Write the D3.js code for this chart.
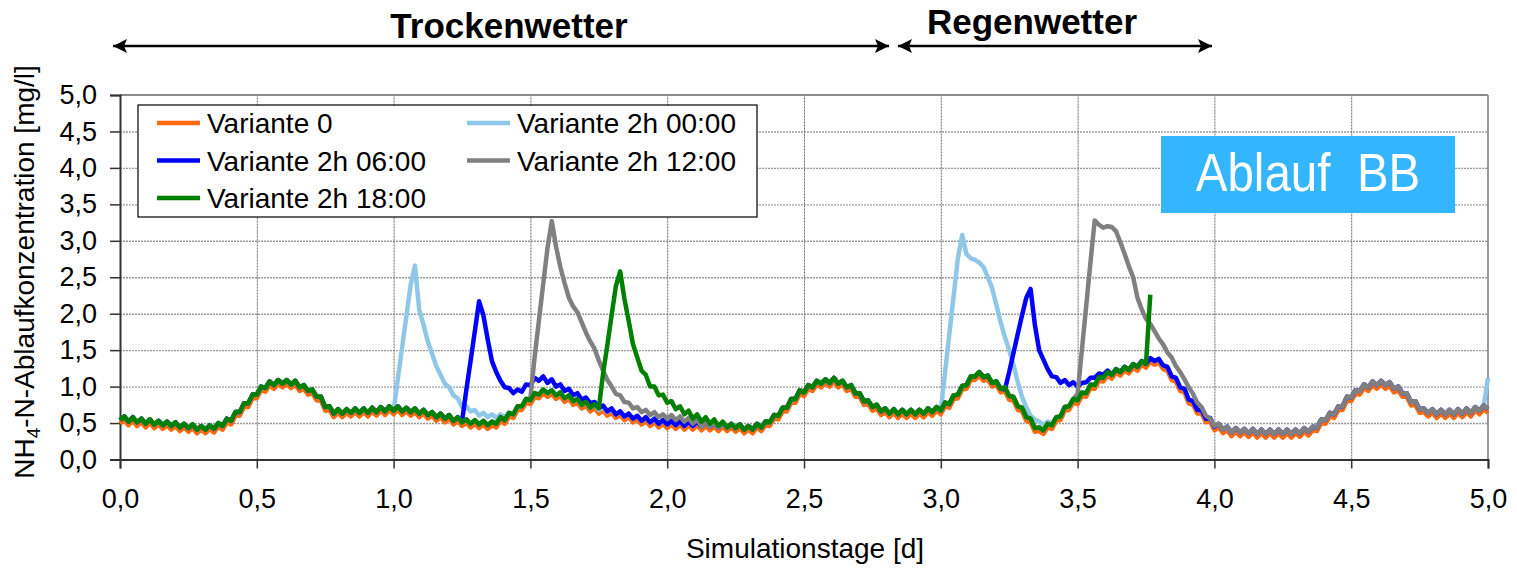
<!DOCTYPE html>
<html>
<head>
<meta charset="utf-8">
<script src="https://cdn.jsdelivr.net/npm/d3@7"></script>
<style>
  body { margin: 0; background: #fff; }
  text { font-family: "Liberation Sans", Arial, sans-serif; }
</style>
</head>
<body>
<svg id="chart"></svg>
<script>
// Simulationsschritt: 1/64 d
const dayStep = 1 / 64;

const xTicks = [0, 0.5, 1, 1.5, 2, 2.5, 3, 3.5, 4, 4.5, 5];
const yTicks = [0, 0.5, 1, 1.5, 2, 2.5, 3, 3.5, 4, 4.5, 5];

const seriesNames = ['Variante 0', 'Variante 2h 00:00', 'Variante 2h 06:00', 'Variante 2h 12:00', 'Variante 2h 18:00'];

// NH4-N im Ablauf, Variante 0 [mg/l]
const variante0 = [
  0.49,0.54,0.47,0.53,0.46,0.51,0.44,0.50,0.43,0.48,
  0.42,0.47,0.41,0.46,0.39,0.44,0.38,0.43,0.36,0.41,
  0.36,0.42,0.37,0.45,0.41,0.51,0.48,0.60,0.60,0.72,
  0.72,0.84,0.84,0.95,0.93,1.02,0.97,1.04,0.99,1.04,
  0.98,1.03,0.94,0.97,0.89,0.91,0.81,0.81,0.67,0.68,
  0.58,0.64,0.58,0.64,0.59,0.65,0.59,0.65,0.59,0.66,
  0.60,0.67,0.61,0.68,0.62,0.68,0.61,0.66,0.60,0.65,
  0.58,0.63,0.56,0.60,0.53,0.58,0.51,0.56,0.48,0.53,
  0.46,0.50,0.44,0.49,0.43,0.48,0.42,0.47,0.44,0.53,
  0.49,0.59,0.57,0.68,0.68,0.78,0.76,0.86,0.84,0.91,
  0.86,0.90,0.83,0.87,0.79,0.83,0.75,0.78,0.70,0.74,
  0.66,0.71,0.63,0.67,0.60,0.64,0.57,0.61,0.54,0.58,
  0.51,0.55,0.48,0.53,0.46,0.51,0.44,0.49,0.43,0.48,
  0.42,0.48,0.41,0.47,0.41,0.47,0.40,0.46,0.40,0.45,
  0.39,0.45,0.39,0.44,0.38,0.43,0.36,0.41,0.36,0.44,
  0.39,0.47,0.46,0.56,0.55,0.66,0.66,0.78,0.78,0.90,
  0.87,0.97,0.94,1.03,0.99,1.05,1.00,1.07,0.99,1.03,
  0.94,0.97,0.86,0.86,0.75,0.76,0.67,0.70,0.61,0.65,
  0.58,0.64,0.57,0.63,0.57,0.63,0.57,0.63,0.58,0.65,
  0.60,0.67,0.62,0.73,0.71,0.83,0.84,0.96,0.97,1.09,
  1.09,1.15,1.08,1.10,1.00,1.02,0.92,0.94,0.82,0.81,
  0.68,0.66,0.53,0.51,0.38,0.39,0.35,0.44,0.42,0.53,
  0.54,0.67,0.68,0.78,0.76,0.87,0.86,0.98,0.97,1.08,
  1.07,1.15,1.11,1.19,1.15,1.22,1.18,1.26,1.22,1.30,
  1.26,1.34,1.30,1.33,1.24,1.22,1.09,1.07,0.94,0.92,
  0.77,0.75,0.63,0.63,0.51,0.52,0.40,0.44,0.36,0.40,
  0.32,0.38,0.32,0.37,0.31,0.37,0.30,0.36,0.30,0.36,
  0.30,0.36,0.30,0.36,0.30,0.36,0.31,0.38,0.33,0.40,
  0.39,0.50,0.49,0.59,0.57,0.68,0.68,0.81,0.80,0.90,
  0.89,0.98,0.94,1.02,0.97,1.03,0.97,1.01,0.92,0.95,
  0.86,0.86,0.74,0.75,0.64,0.65,0.59,0.64,0.57,0.63,
  0.57,0.63,0.57,0.64,0.58,0.65,0.59,0.67,0.62,0.69,
  0.64
];

// gemeinsamer Verlauf der 2h-Varianten ausserhalb der Stoesse [mg/l]
const basis2h = [
  0.54,0.59,0.52,0.58,0.51,0.56,0.49,0.55,0.48,0.53,
  0.47,0.52,0.46,0.51,0.44,0.49,0.43,0.48,0.41,0.46,
  0.41,0.47,0.42,0.50,0.46,0.56,0.53,0.65,0.65,0.77,
  0.77,0.89,0.89,1.00,0.98,1.07,1.02,1.09,1.04,1.09,
  1.03,1.08,0.99,1.02,0.94,0.96,0.86,0.86,0.72,0.73,
  0.63,0.69,0.63,0.69,0.64,0.70,0.64,0.70,0.64,0.71,
  0.65,0.72,0.66,0.73,0.67,0.73,0.66,0.71,0.65,0.70,
  0.63,0.68,0.61,0.65,0.58,0.63,0.56,0.61,0.53,0.58,
  0.51,0.55,0.49,0.54,0.48,0.53,0.47,0.52,0.49,0.58,
  0.54,0.64,0.62,0.73,0.73,0.83,0.81,0.91,0.89,0.96,
  0.91,0.95,0.88,0.92,0.84,0.88,0.80,0.83,0.75,0.79,
  0.71,0.76,0.68,0.72,0.65,0.69,0.62,0.66,0.59,0.63,
  0.56,0.60,0.53,0.58,0.51,0.56,0.49,0.54,0.48,0.53,
  0.47,0.53,0.46,0.52,0.46,0.52,0.45,0.51,0.45,0.50,
  0.44,0.50,0.44,0.49,0.43,0.48,0.41,0.46,0.41,0.49,
  0.44,0.52,0.51,0.61,0.60,0.71,0.71,0.83,0.83,0.95,
  0.92,1.02,0.99,1.08,1.04,1.10,1.05,1.12,1.04,1.08,
  0.99,1.02,0.91,0.91,0.80,0.81,0.72,0.75,0.66,0.70,
  0.63,0.69,0.62,0.68,0.62,0.68,0.62,0.68,0.63,0.70,
  0.65,0.72,0.67,0.78,0.76,0.88,0.89,1.01,1.02,1.14,
  1.14,1.20,1.13,1.15,1.05,1.07,0.97,0.99,0.87,0.86,
  0.73,0.71,0.58,0.56,0.43,0.44,0.40,0.49,0.47,0.58,
  0.59,0.72,0.73,0.83,0.81,0.92,0.91,1.03,1.02,1.13,
  1.12,1.20,1.16,1.24,1.20,1.27,1.23,1.31,1.27,1.35,
  1.31,1.39,1.35,1.38,1.29,1.27,1.14,1.12,0.99,0.97,
  0.82,0.80,0.68,0.68,0.56,0.57,0.45,0.49,0.41,0.45,
  0.37,0.43,0.37,0.42,0.36,0.42,0.35,0.41,0.35,0.41,
  0.35,0.41,0.35,0.41,0.35,0.41,0.36,0.43,0.38,0.45,
  0.44,0.55,0.54,0.64,0.62,0.73,0.73,0.86,0.85,0.95,
  0.94,1.03,0.99,1.07,1.02,1.08,1.02,1.06,0.97,1.00,
  0.91,0.91,0.79,0.80,0.69,0.70,0.64,0.69,0.62,0.68,
  0.62,0.68,0.62,0.69,0.63,0.70,0.64,0.72,0.67,0.74,
  0.69
];

// Stoesse je Variante (Startschritt + Werte)
const start00a = 65;
const peak00a = [1.11,1.54,1.97,2.40,2.66,2.05,1.85,1.62,1.45,1.28,1.16,1.04,0.99,0.88,0.84,0.72,0.73,0.66,0.68,0.60,0.64,0.58,0.62,0.57,0.62,0.58,0.64];
const start00b = 193;
const peak00b = [1.20,1.72,2.24,2.76,3.08,2.82,2.76,2.74,2.70,2.64,2.50,2.35,2.12,1.88,1.68,1.50,1.30,1.06,0.86,0.72,0.60,0.55,0.52,0.48,0.52,0.50];
const start00c = 320;
const peak00c = [1.12];

const start06a = 80;
const peak06a = [0.52,0.95,1.35,1.76,2.17,1.98,1.65,1.35,1.20,1.08,0.99,0.98,0.91,0.96,0.93,1.03,1.02,1.12,1.08,1.14,1.05,1.10,1.00,1.03,0.94,0.97,0.88,0.91,0.82,0.85,0.77,0.79,0.71,0.74,0.66,0.70,0.62,0.66];
const start06b = 207;
const peak06b = [0.96,1.20,1.46,1.72,1.98,2.22,2.34,1.85,1.50,1.37,1.24,1.14,1.13,1.05,1.09,1.02,1.06,1.00,1.05,1.06,1.12,1.12,1.18,1.16,1.22];

const start12a = 96;
const peak12a = [0.84,1.41,1.91,2.41,2.90,3.27,2.92,2.64,2.42,2.22,2.10,2.02,1.88,1.74,1.62,1.52,1.36,1.22,1.09,1.00,0.90,0.88,0.79,0.78,0.70,0.72,0.65,0.68,0.61,0.65,0.58,0.62,0.56,0.61,0.54,0.59,0.52,0.57,0.49,0.55];
const start12b = 224;
const peak12b = [0.90,1.50,2.10,2.70,3.28,3.22,3.18,3.20,3.19,3.13,2.98,2.82,2.65,2.50,2.22,2.06,1.93,1.86,1.76,1.66,1.58,1.47,1.40,1.28,1.20,1.10,0.99,0.90,0.78,0.72,0.60,0.56,0.46,0.49];

const start18a = 112;
const peak18a = [0.70,1.18,1.57,1.98,2.38,2.58,2.20,1.90,1.58,1.40,1.22,1.16,1.00,1.00,0.88,0.89,0.78,0.80,0.69,0.73,0.62,0.67,0.56,0.62,0.52,0.58,0.49,0.55,0.46,0.52];
const start18b = 241;
const peak18b = [2.26];
const steps18 = 242; // Variante 18:00 endet bei 3,77 d

const seriesColors = ['#ff6a0e', '#8fc7e8', '#0000ff', '#808080', '#008000'];

function withPeaks(base, peaks, len = base.length) {
  const s = base.slice(0, len);
  peaks.forEach(([start, vals]) => vals.forEach((v, k) => { s[start + k] = v; }));
  return s;
}

const series = [
  variante0,
  withPeaks(basis2h, [[start00a, peak00a], [start00b, peak00b], [start00c, peak00c]]),
  withPeaks(basis2h, [[start06a, peak06a], [start06b, peak06b]]),
  withPeaks(basis2h, [[start12a, peak12a], [start12b, peak12b]]),
  withPeaks(basis2h, [[start18a, peak18a], [start18b, peak18b]], steps18)
].map((values, i) => ({ name: seriesNames[i], color: seriesColors[i], values }));

const width = 1517;
const height = 569;
const plotLeft = 120, plotRight = 1488, plotTop = 95, plotBottom = 459.5;

const svg = d3.select('#chart')
  .attr('width', width)
  .attr('height', height);

svg.append('rect').attr('width', width).attr('height', height).attr('fill', '#fff');

const x = d3.scaleLinear().domain([0, 5]).range([plotLeft, plotRight]);
const y = d3.scaleLinear().domain([0, 5]).range([plotBottom, plotTop]);
const fmt = d => d.toFixed(1).replace('.', ',');

// grid
svg.append('g')
  .attr('transform', `translate(${plotLeft},0)`)
  .call(d3.axisLeft(y).tickValues(yTicks.slice(1, -1)).tickSize(-(plotRight - plotLeft)).tickFormat(''))
  .call(g => g.select('.domain').remove())
  .selectAll('line')
  .attr('stroke', '#999')
  .attr('stroke-width', 1.4)
  .attr('stroke-dasharray', '2,1');

svg.append('g')
  .attr('transform', `translate(0,${plotBottom})`)
  .call(d3.axisBottom(x).tickValues(xTicks.slice(1, -1)).tickSize(-(plotBottom - plotTop)).tickFormat(''))
  .call(g => g.select('.domain').remove())
  .selectAll('line')
  .attr('stroke', '#6a6a6a')
  .attr('stroke-width', 1)
  .attr('stroke-dasharray', '2,1');

// frame top/right
svg.append('line').attr('x1', plotLeft).attr('x2', plotRight).attr('y1', plotTop).attr('y2', plotTop)
  .attr('stroke', '#8a8a8a').attr('stroke-width', 2);
svg.append('line').attr('x1', plotRight).attr('x2', plotRight).attr('y1', plotTop).attr('y2', plotBottom)
  .attr('stroke', '#9a9a9a').attr('stroke-width', 2);

// axes
const yAxis = svg.append('g')
  .attr('transform', `translate(${plotLeft},0)`)
  .call(d3.axisLeft(y).tickValues(yTicks).tickSize(10).tickPadding(13).tickFormat(fmt));
const xAxis = svg.append('g')
  .attr('transform', `translate(0,${plotBottom})`)
  .call(d3.axisBottom(x).tickValues(xTicks).tickSize(9).tickPadding(20).tickFormat(fmt));

[yAxis, xAxis].forEach(ax => {
  ax.select('.domain').attr('stroke', '#333').attr('stroke-width', 2);
  ax.selectAll('.tick line').attr('stroke', '#333').attr('stroke-width', 1.5);
  ax.selectAll('.tick text')
    .attr('fill', '#000')
    .style('font-size', '27px')
    .style('font-family', '"Liberation Sans", Arial, sans-serif');
});

// lines
const line = d3.line()
  .x((d, i) => x(i * dayStep))
  .y(d => y(d));

svg.append('g')
  .selectAll('path')
  .data(series)
  .join('path')
  .attr('d', d => line(d.values))
  .attr('fill', 'none')
  .attr('stroke', d => d.color)
  .attr('stroke-width', 4.5)
  .attr('stroke-linejoin', 'round');

// legend
const legend = svg.append('g').attr('transform', 'translate(138,105)');
legend.append('rect')
  .attr('width', 619).attr('height', 112)
  .attr('fill', '#fff').attr('stroke', '#000').attr('stroke-width', 1.2);

const legendItems = legend.selectAll('g.item')
  .data(series)
  .join('g')
  .classed('item', true)
  .attr('transform', (d, i) => `translate(${i % 2 ? 329 : 19},${18 + Math.floor(i / 2) * 37.5})`);

legendItems.append('line')
  .attr('x1', 0).attr('x2', 43)
  .attr('stroke', d => d.color)
  .attr('stroke-width', 4.5);

legendItems.append('text')
  .attr('x', 50)
  .attr('y', 10)
  .style('font-size', '28px')
  .text(d => d.name);

// axis titles
svg.append('text')
  .attr('x', (plotLeft + plotRight) / 2 + 1)
  .attr('y', 558)
  .attr('text-anchor', 'middle')
  .style('font-size', '28px')
  .text('Simulationstage [d]');

const yTitle = svg.append('text')
  .attr('transform', 'translate(34,272) rotate(-90)')
  .attr('text-anchor', 'middle')
  .style('font-size', '28px');
yTitle.append('tspan').text('NH');
yTitle.append('tspan').attr('dy', 6).style('font-size', '19px').text('4');
yTitle.append('tspan').attr('dy', -6).text('-N-Ablaufkonzentration [mg/l]');

// Ablauf BB box
svg.append('rect')
  .attr('x', 1161).attr('y', 136).attr('width', 294).attr('height', 77)
  .attr('fill', '#33b5ff');
svg.append('text')
  .attr('transform', 'translate(1308,191) scale(0.88,1)')
  .attr('text-anchor', 'middle')
  .attr('fill', '#fff')
  .style('font-size', '54px')
  .style('white-space', 'pre')
  .text('Ablauf  BB');

// Trocken-/Regenwetter arrows
const defs = svg.append('defs');
defs.append('marker')
  .attr('id', 'arrowHead')
  .attr('viewBox', '0 0 14 14')
  .attr('refX', 14).attr('refY', 7)
  .attr('markerWidth', 14).attr('markerHeight', 14)
  .attr('markerUnits', 'userSpaceOnUse')
  .attr('orient', 'auto-start-reverse')
  .append('path')
  .attr('d', 'M0,0 L14,7 L0,14 L3,7 Z')
  .attr('fill', '#000');

const periods = [
  { label: 'Trockenwetter', x1: 113, x2: 889 },
  { label: 'Regenwetter', x1: 898, x2: 1212 }
];

periods.forEach(p => {
  svg.append('line')
    .attr('x1', p.x1).attr('x2', p.x2)
    .attr('y1', 46).attr('y2', 46)
    .attr('stroke', '#000').attr('stroke-width', 2.5)
    .attr('marker-start', 'url(#arrowHead)')
    .attr('marker-end', 'url(#arrowHead)');
});

svg.append('text')
  .attr('x', 509).attr('y', 38)
  .attr('text-anchor', 'middle')
  .style('font-size', '35px').style('font-weight', 'bold')
  .text('Trockenwetter');
svg.append('text')
  .attr('x', 1032).attr('y', 34)
  .attr('text-anchor', 'middle')
  .style('font-size', '35px').style('font-weight', 'bold')
  .text('Regenwetter');
</script>
</body>
</html>
